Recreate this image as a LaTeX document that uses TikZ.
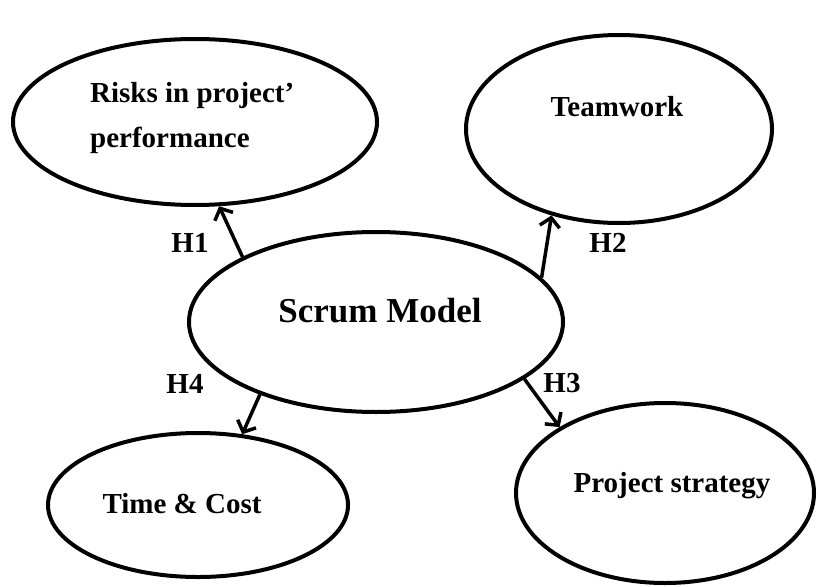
\documentclass[tikz,border=0pt]{standalone}
\usepackage{fontspec}
\setmainfont{Liberation Serif}
\usetikzlibrary{arrows.meta,shapes.geometric}
\tikzset{
  bubble/.style={draw, ellipse, line width=4pt, inner sep=0pt},
  txt/.style={font=\bfseries\fontsize{29}{45}\selectfont, inner sep=0pt},
  hyp/.style={line width=3.5pt, -{Straight Barb[length=9pt,width=20pt,line width=3.5pt]}}
}
\begin{document}
\begin{tikzpicture}[x=1pt,y=-1pt]
\useasboundingbox (0,0) rectangle (818,586);
\node[bubble, minimum width=364pt, minimum height=166pt] (risk) at (195,122) {};
\node[bubble, minimum width=306pt, minimum height=188pt] (team) at (619,129) {};
\node[bubble, minimum width=374pt, minimum height=180pt] (scrum) at (376,322) {};
\node[bubble, minimum width=300pt, minimum height=144pt] (time) at (198,505) {};
\node[bubble, minimum width=298pt, minimum height=180pt] (strat) at (665,493) {};
\node[txt, anchor=north west, align=left] (risktxt) at (90,82) {Risks in project’\\performance};
\node[txt, anchor=base] (teamtxt) at (617,116) {Teamwork};
\node[txt, anchor=base, font=\bfseries\fontsize{35}{40}\selectfont] (scrumtxt) at (380,322) {Scrum Model};
\node[txt, anchor=base] (timetxt) at (182,513) {Time \& Cost};
\node[txt, anchor=base] (strattxt) at (672,492) {Project strategy};
\draw[hyp] (scrum.154) -- (risk.-74.5);
\draw[hyp] (scrum.15) -- (team.-128);
\draw[hyp] (scrum.-21) -- (strat.148);
\draw[hyp] (scrum.-148) -- (time.58);
\node[txt, anchor=base] (h1) at (190,252) {H1};
\node[txt, anchor=base] (h2) at (608,252) {H2};
\node[txt, anchor=base] (h3) at (562,392) {H3};
\node[txt, anchor=base] (h4) at (185,393) {H4};
\end{tikzpicture}
\end{document}
